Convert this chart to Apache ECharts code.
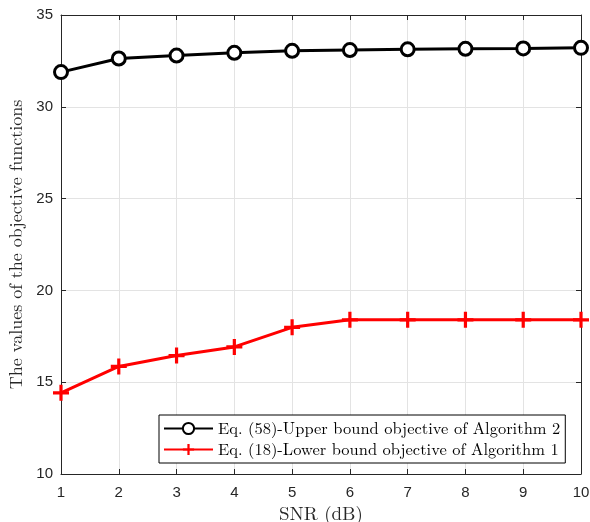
<!DOCTYPE html>
<html>
<head>
<meta charset="utf-8">
<script src="https://cdn.jsdelivr.net/npm/echarts@6/dist/echarts.min.js"></script>
<style>
  html, body { margin: 0; padding: 0; background: #fff; }
  #chart { width: 590px; height: 522px; }
</style>
</head>
<body>
<div id="chart"></div>
<script>
// SNR values on the x axis (dB)
const snr = [1, 2, 3, 4, 5, 6, 7, 8, 9, 10];
// Eq. (58) upper bound objective of Algorithm 2
const upperBound = [31.89, 32.63, 32.79, 32.94, 33.05, 33.09, 33.13, 33.16, 33.18, 33.21];
// Eq. (18) lower bound objective of Algorithm 1
const lowerBound = [14.42, 15.86, 16.45, 16.92, 17.99, 18.40, 18.40, 18.40, 18.40, 18.40];

const upperName = 'Eq. (58)-Upper bound objective of Algorithm 2';
const lowerName = 'Eq. (18)-Lower bound objective of Algorithm 1';

const serif = '"Latin Modern Roman", "DejaVu Serif", "Liberation Serif", serif';
const sans = '"Liberation Sans", Arial, Helvetica, sans-serif';
const plusPath = 'path://M4,0 L6,0 L6,4 L10,4 L10,6 L6,6 L6,10 L4,10 L4,6 L0,6 L0,4 L4,4 Z';

const chart = echarts.init(document.getElementById('chart'), null, { renderer: 'canvas' });

const frameAxisLine = { show: true, lineStyle: { color: '#262626', width: 1 } };
const innerTick = { show: true, inside: true, length: 5, lineStyle: { color: '#262626' } };

chart.setOption({
  animation: false,
  backgroundColor: '#fff',
  grid: { left: 61, right: 9, top: 15, bottom: 48, containLabel: false, outerBoundsMode: 'none' },
  legend: {
    left: 159,
    top: 415,
    orient: 'vertical',
    itemWidth: 49,
    itemHeight: 14,
    itemGap: 4,
    padding: [5, 5, 5, 4],
    backgroundColor: '#fff',
    borderColor: '#000',
    borderWidth: 1,
    borderRadius: 0,
    textStyle: { fontFamily: serif, fontSize: 16.5, lineHeight: 16, color: '#000' },
    data: [upperName, lowerName]
  },
  xAxis: [
    {
      type: 'value', min: 1, max: 10, interval: 1,
      name: 'SNR (dB)', nameLocation: 'middle', nameGap: 31,
      nameTextStyle: { fontFamily: serif, fontSize: 19, color: '#262626' },
      axisLine: frameAxisLine, axisTick: innerTick,
      axisLabel: { fontFamily: sans, fontSize: 15, color: '#262626', margin: 11 },
      splitLine: { show: true, lineStyle: { color: '#e3e3e3', width: 1 } }
    },
    {
      type: 'value', position: 'top', min: 1, max: 10, interval: 1,
      axisLine: frameAxisLine, axisTick: innerTick,
      axisLabel: { show: false }, splitLine: { show: false }
    }
  ],
  yAxis: [
    {
      type: 'value', min: 10, max: 35, interval: 5,
      name: 'The values of the objective functions', nameLocation: 'middle', nameGap: 35,
      nameTextStyle: { fontFamily: serif, fontSize: 18, color: '#262626' },
      axisLine: frameAxisLine, axisTick: innerTick,
      axisLabel: { fontFamily: sans, fontSize: 15, color: '#262626', margin: 8 },
      splitLine: { show: true, lineStyle: { color: '#e3e3e3', width: 1 } }
    },
    {
      type: 'value', position: 'right', min: 10, max: 35, interval: 5,
      axisLine: frameAxisLine, axisTick: innerTick,
      axisLabel: { show: false }, splitLine: { show: false }
    }
  ],
  series: [
    {
      name: upperName,
      type: 'line',
      data: snr.map((x, i) => [x, upperBound[i]]),
      symbol: 'circle',
      symbolSize: 13,
      showAllSymbol: true,
      lineStyle: { color: '#000', width: 3 },
      itemStyle: { color: '#fff', borderColor: '#000', borderWidth: 3 },
      z: 3
    },
    {
      name: lowerName,
      type: 'line',
      data: snr.map((x, i) => [x, lowerBound[i]]),
      symbol: plusPath,
      symbolSize: 16,
      showAllSymbol: true,
      lineStyle: { color: '#ff0000', width: 3 },
      itemStyle: { color: '#ff0000' },
      z: 3
    }
  ]
});
</script>
</body>
</html>
